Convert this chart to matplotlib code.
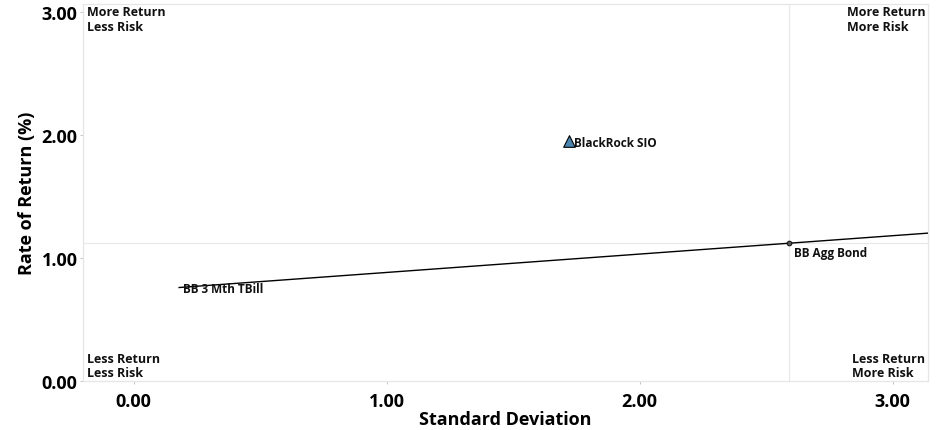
import matplotlib
matplotlib.use("Agg")
import matplotlib.pyplot as plt

# risk / return values
names = ["BlackRock SIO", "BB Agg Bond", "BB 3 Mth TBill"]
std_dev = [1.72, 2.59, 0.18]
returns = [1.95, 1.12, 0.76]

x_ticks = [0.0, 1.0, 2.0, 3.0]
y_ticks = [0.0, 1.0, 2.0, 3.0]
x_limits = [-0.2, 3.14]
y_limits = [0.0, 3.065]

plt.rcParams["font.family"] = ["Open Sans", "DejaVu Sans"]
plt.rcParams["font.weight"] = "bold"

fig = plt.figure(figsize=(9.41, 4.31), dpi=100)
ax = fig.add_axes([83 / 941, (431 - 382) / 431, (928 - 83) / 941, (382 - 5) / 431])

ax.set_xlim(x_limits)
ax.set_ylim(y_limits)

# market line from T-bill through the bond index
tb_x, tb_y = std_dev[2], returns[2]
bd_x, bd_y = std_dev[1], returns[1]
slope = (bd_y - tb_y) / (bd_x - tb_x)
ax.plot([tb_x, x_limits[1]], [tb_y, tb_y + slope * (x_limits[1] - tb_x)],
        color="black", lw=1.0, zorder=3)

# quadrant lines through the bond index
ax.axvline(bd_x, color="#e8e8e8", lw=0.9, zorder=1)
ax.axhline(bd_y, color="#e8e8e8", lw=0.9, zorder=1)

ax.scatter([std_dev[0]], [returns[0]], marker="^", s=70, color="#4a86b0",
           edgecolor="black", linewidth=0.8, zorder=4)
ax.scatter([bd_x], [bd_y], marker="o", s=12, color="#555555",
           edgecolor="black", linewidth=0.6, zorder=4)

lbl = dict(fontsize=8.5, fontweight="bold", color="#111111")
ax.annotate(names[0], (std_dev[0], returns[0]), xytext=(4, -1),
            textcoords="offset points", ha="left", va="center", **lbl)
ax.annotate(names[1], (bd_x, bd_y), xytext=(4, -2),
            textcoords="offset points", ha="left", va="top", **lbl)
ax.annotate(names[2], (tb_x, tb_y), xytext=(3, -1),
            textcoords="offset points", ha="left", va="center", **lbl)

quad = dict(fontsize=9, fontweight="bold", color="#111111", linespacing=1.15,
            transform=ax.transAxes)
ax.text(0.005, 0.997, "More Return\nLess Risk", ha="left", va="top", **quad)
ax.text(0.997, 0.997, "More Return\nMore Risk", ha="right", va="top",
        multialignment="left", **quad)
ax.text(0.005, 0.004, "Less Return\nLess Risk", ha="left", va="bottom", **quad)
ax.text(0.997, 0.004, "Less Return\nMore Risk", ha="right", va="bottom",
        multialignment="left", **quad)

ax.set_xticks(x_ticks)
ax.set_yticks(y_ticks)
ax.set_xticklabels([f"{v:.2f}" for v in x_ticks], fontsize=13, fontweight="bold")
ax.set_yticklabels([f"{v:.2f}" for v in y_ticks], fontsize=13, fontweight="bold")
ax.tick_params(length=2, width=0.6, color="#bbbbbb", pad=2)
ax.tick_params(axis="x", pad=6)

for s in ax.spines.values():
    s.set_color("#e6e6e6")
    s.set_linewidth(0.9)

ax.set_xlabel("Standard Deviation", fontsize=13, fontweight="bold", labelpad=0)
ax.set_ylabel("Rate of Return (%)", fontsize=13, fontweight="bold", labelpad=4)

fig.savefig("out.png", dpi=100)
